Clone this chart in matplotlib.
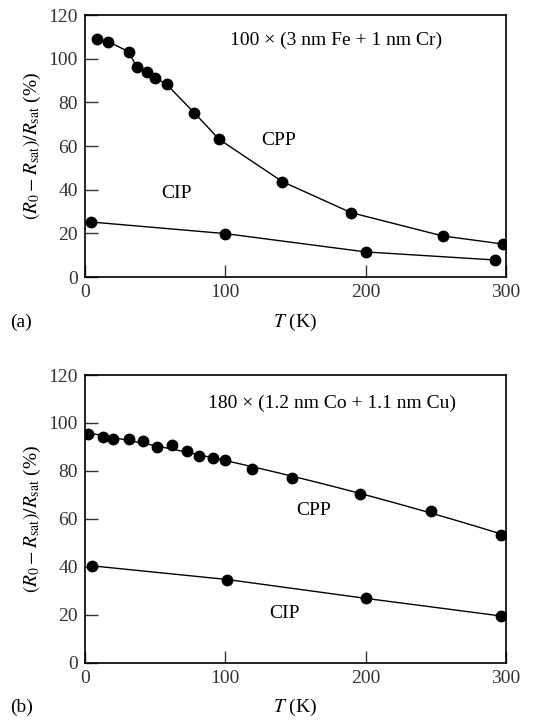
import matplotlib
matplotlib.use('Agg')
import matplotlib.pyplot as plt
import numpy as np

# Panel (a): 100 x (3 nm Fe + 1 nm Cr)
a_cpp_T = [8.3, 16.6, 31.1, 36.8, 44.2, 49.9, 58.2, 77.9, 95.5, 140.6, 189.5, 254.9, 298]
a_cpp_mr = [108.9, 107.8, 103.2, 96.3, 94.0, 91.3, 88.2, 75.2, 63.1, 43.7, 29.5, 18.8, 15.1]
a_cip_T = [4.3, 99.8, 200, 292.4]
a_cip_mr = [25.2, 19.9, 11.5, 7.8]

# Panel (b): 180 x (1.2 nm Co + 1.1 nm Cu)
b_cpp_T = [1.9, 12.6, 20.2, 31.6, 41.6, 51.5, 62.2, 72.4, 81.2, 91.2, 100, 119.2, 147.7, 195.7, 246.8, 296.4]
b_cpp_mr = [95.3, 94.2, 93.5, 93.2, 92.3, 89.9, 91.0, 88.1, 86.3, 85.5, 84.5, 80.7, 77.1, 70.2, 63.4, 53.4]
b_cip_T = [5.2, 101.4, 200.5, 296.4]
b_cip_mr = [40.4, 34.7, 26.8, 19.5]

xticks = [0, 100, 200, 300]
yticks = [0, 20, 40, 60, 80, 100, 120]

plt.rcParams.update({'font.family': 'Liberation Serif', 'mathtext.fontset': 'stix',
                     'font.size': 14})

fig = plt.figure(figsize=(5.57, 7.22), dpi=100)
ax_a = fig.add_axes([0.1526, 0.6163, 0.756, 0.3629])
ax_b = fig.add_axes([0.1526, 0.0821, 0.756, 0.3985])

ylab = r'$(R_0 - R_{\rm sat})/R_{\rm sat}$ (%)'

panels = [
    (ax_a, a_cpp_T, a_cpp_mr, a_cip_T, a_cip_mr, '100 × (3 nm Fe + 1 nm Cr)',
     (179, 108.5), (137.8, 62.7), (65.3, 38.2), 322, False),
    (ax_b, b_cpp_T, b_cpp_mr, b_cip_T, b_cip_mr, '180 × (1.2 nm Co + 1.1 nm Cu)',
     (175.8, 108.1), (162.7, 63.4), (142, 20.6), 707, True),
]
tags = ['(a)', '(b)']

for (ax, cT, cm, iT, im, title, tpos, cpos, ipos, ypix, smooth), tag in zip(panels, tags):
    if smooth:
        # smooth trend line through the scattered CPP points
        coef = np.polyfit(cT, cm, 2)
        tt = np.linspace(min(cT), max(cT), 100)
        ax.plot(tt, np.polyval(coef, tt), color='black', lw=1.0)
        ax.plot(cT, cm, ls='none', marker='o', ms=7.5, color='black')
    else:
        ax.plot(cT, cm, color='black', lw=1.0, marker='o', ms=7.5, mfc='black')
    ax.plot(iT, im, color='black', lw=1.0, marker='o', ms=7.5, mfc='black')
    ax.set_xlim(0, 300)
    ax.set_ylim(0, 120)
    ax.set_xticks(xticks)
    ax.set_yticks(yticks)
    ax.tick_params(direction='in', length=9, width=1.0, top=False, right=False,
                   labelsize=14, colors='#333333', labelcolor='#333333', pad=5)
    for s in ax.spines.values():
        s.set_linewidth(1.2)
    ax.set_ylabel(ylab, fontsize=14, labelpad=4)
    ax.text(tpos[0], tpos[1], title, ha='center', va='center', fontsize=14)
    ax.text(cpos[0], cpos[1], 'CPP', ha='center', va='center', fontsize=14)
    ax.text(ipos[0], ipos[1], 'CIP', ha='center', va='center', fontsize=14)
    yf = 1 - ypix / 722
    fig.text(295 / 557, yf, r'$T$ (K)', ha='center', va='center', fontsize=14)
    fig.text(10 / 557, yf, tag, ha='left', va='center', fontsize=14)

fig.savefig('out.png', dpi=100)
